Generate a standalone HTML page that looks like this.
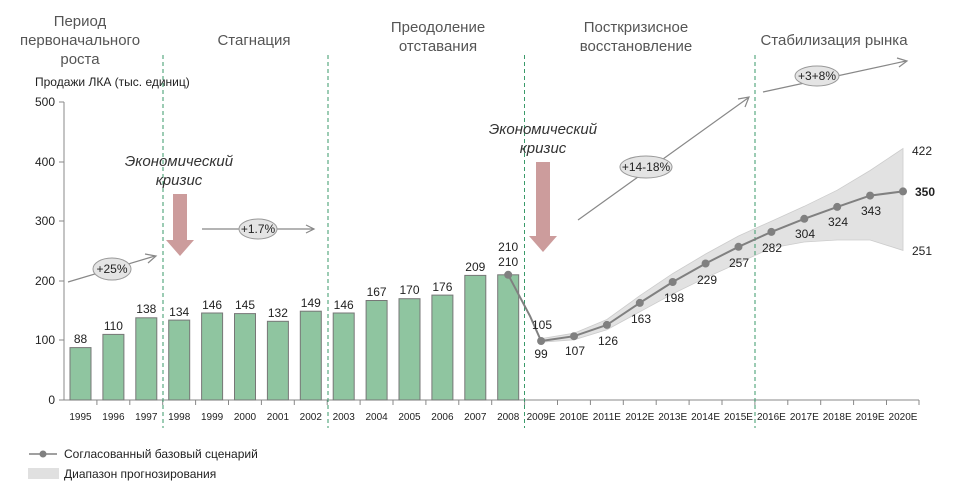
<!DOCTYPE html>
<html><head><meta charset="utf-8"><style>
body{margin:0;background:#fff;}
svg text{font-family:"Liberation Sans",Arial,sans-serif;}
</style></head><body>
<svg width="954" height="494" viewBox="0 0 954 494" xmlns="http://www.w3.org/2000/svg">
<g font-size="15" fill="#555" text-anchor="middle">
<text x="80" y="26">Период</text><text x="80" y="45">первоначального</text><text x="80" y="64">роста</text>
<text x="254" y="45">Стагнация</text>
<text x="438" y="32">Преодоление</text><text x="438" y="51">отставания</text>
<text x="636" y="32">Посткризисное</text><text x="636" y="51">восстановление</text>
<text x="834" y="45">Стабилизация рынка</text>
</g>
<text x="35" y="86" font-size="12" fill="#222">Продажи ЛКА  (тыс. единиц)</text>
<!-- band -->
<polygon fill="#e2e2e2" stroke="#ccc" stroke-width="0.8" points="541.1,338.6 574,333.2 606.9,319.5 639.8,295.7 672.7,273.6 705.6,254 738.5,236 771.4,221.2 804.3,206.3 837.2,190.2 870.1,170.5 903,148.5 903,250.4 870.1,240 837.2,240 804.3,242 771.4,248 738.5,263 705.6,277.8 672.7,293.9 639.8,311.8 606.9,329.7 574,339.8 541.1,342.2"/>
<!-- axes -->
<g stroke="#888" stroke-width="1">
<line x1="64" y1="102" x2="64" y2="400"/>
<line x1="64" y1="400" x2="919" y2="400"/>
<line x1="59" y1="102" x2="64" y2="102"/><line x1="59" y1="162" x2="64" y2="162"/><line x1="59" y1="221" x2="64" y2="221"/><line x1="59" y1="281" x2="64" y2="281"/><line x1="59" y1="340" x2="64" y2="340"/><line x1="59" y1="400" x2="64" y2="400"/>
</g>
<g stroke="#888">
<line x1="96.9" y1="400" x2="96.9" y2="405"/><line x1="129.8" y1="400" x2="129.8" y2="405"/><line x1="162.7" y1="400" x2="162.7" y2="405"/><line x1="195.6" y1="400" x2="195.6" y2="405"/><line x1="228.5" y1="400" x2="228.5" y2="405"/><line x1="261.4" y1="400" x2="261.4" y2="405"/><line x1="294.3" y1="400" x2="294.3" y2="405"/><line x1="327.2" y1="400" x2="327.2" y2="405"/><line x1="360.1" y1="400" x2="360.1" y2="405"/><line x1="393" y1="400" x2="393" y2="405"/><line x1="425.9" y1="400" x2="425.9" y2="405"/><line x1="458.8" y1="400" x2="458.8" y2="405"/><line x1="491.7" y1="400" x2="491.7" y2="405"/><line x1="524.6" y1="400" x2="524.6" y2="405"/><line x1="557.5" y1="400" x2="557.5" y2="405"/><line x1="590.4" y1="400" x2="590.4" y2="405"/><line x1="623.3" y1="400" x2="623.3" y2="405"/><line x1="656.2" y1="400" x2="656.2" y2="405"/><line x1="689.1" y1="400" x2="689.1" y2="405"/><line x1="722" y1="400" x2="722" y2="405"/><line x1="754.9" y1="400" x2="754.9" y2="405"/><line x1="787.8" y1="400" x2="787.8" y2="405"/><line x1="820.7" y1="400" x2="820.7" y2="405"/><line x1="853.6" y1="400" x2="853.6" y2="405"/><line x1="886.5" y1="400" x2="886.5" y2="405"/><line x1="919" y1="400" x2="919" y2="405"/>
</g>
<g font-size="12" fill="#222" text-anchor="end">
<text x="55" y="106">500</text><text x="55" y="166">400</text><text x="55" y="225">300</text><text x="55" y="285">200</text><text x="55" y="344">100</text><text x="55" y="404">0</text>
</g>
<!-- bars -->
<g fill="#8fc5a0" stroke="#777" stroke-width="1">
<rect x="70" y="347.6" width="21" height="52.4"/><rect x="102.9" y="334.4" width="21" height="65.6"/><rect x="135.8" y="317.8" width="21" height="82.2"/><rect x="168.7" y="320.1" width="21" height="79.9"/><rect x="201.6" y="313" width="21" height="87"/><rect x="234.5" y="313.6" width="21" height="86.4"/><rect x="267.4" y="321.3" width="21" height="78.7"/><rect x="300.3" y="311.2" width="21" height="88.8"/><rect x="333.2" y="313" width="21" height="87"/><rect x="366.1" y="300.5" width="21" height="99.5"/><rect x="399" y="298.7" width="21" height="101.3"/><rect x="431.9" y="295.1" width="21" height="104.9"/><rect x="464.8" y="275.4" width="21" height="124.6"/><rect x="497.7" y="274.8" width="21" height="125.2"/>
</g>
<g font-size="12" fill="#222" text-anchor="middle">
<text x="80.5" y="343">88</text><text x="113.4" y="330">110</text><text x="146.3" y="313">138</text><text x="179.2" y="316">134</text><text x="212.1" y="309">146</text><text x="245" y="309">145</text><text x="277.9" y="317">132</text><text x="310.8" y="307">149</text><text x="343.7" y="309">146</text><text x="376.6" y="296">167</text><text x="409.5" y="294">170</text><text x="442.4" y="291">176</text><text x="475.3" y="271">209</text><text x="508.2" y="251">210</text><text x="508.2" y="266">210</text>
</g>
<!-- dashed lines -->
<g stroke="#3a9a6a" stroke-width="1" stroke-dasharray="4,3">
<line x1="163" y1="55" x2="163" y2="428"/><line x1="328" y1="55" x2="328" y2="428"/><line x1="524.5" y1="55" x2="524.5" y2="428"/><line x1="755" y1="55" x2="755" y2="428"/>
</g>
<!-- line -->
<polyline fill="none" stroke="#808080" stroke-width="2" points="508.2,274.8 530,316 541.1,341 574,336.2 606.9,324.9 639.8,302.9 672.7,282 705.6,263.5 738.5,246.8 771.4,231.9 804.3,218.8 837.2,206.9 870.1,195.6 903,191.4"/>
<g fill="#808080">
<circle cx="508.2" cy="274.8" r="4"/><circle cx="541.1" cy="341" r="4"/><circle cx="574" cy="336.2" r="4"/><circle cx="606.9" cy="324.9" r="4"/><circle cx="639.8" cy="302.9" r="4"/><circle cx="672.7" cy="282" r="4"/><circle cx="705.6" cy="263.5" r="4"/><circle cx="738.5" cy="246.8" r="4"/><circle cx="771.4" cy="231.9" r="4"/><circle cx="804.3" cy="218.8" r="4"/><circle cx="837.2" cy="206.9" r="4"/><circle cx="870.1" cy="195.6" r="4"/><circle cx="903" cy="191.4" r="4"/>
</g>
<g font-size="12" fill="#222" text-anchor="middle">
<text x="542" y="329">105</text><text x="541" y="358">99</text><text x="575" y="355">107</text><text x="608" y="345">126</text><text x="641" y="323">163</text><text x="674" y="302">198</text><text x="707" y="284">229</text><text x="739" y="267">257</text><text x="772" y="252">282</text><text x="805" y="238">304</text><text x="838" y="226">324</text><text x="871" y="215">343</text>
<text x="922" y="155">422</text><text x="925" y="196" font-weight="bold">350</text><text x="922" y="255">251</text>
</g>
<!-- x labels -->
<g font-size="10" fill="#222" text-anchor="middle">
<text x="80.5" y="420">1995</text><text x="113.4" y="420">1996</text><text x="146.3" y="420">1997</text><text x="179.2" y="420">1998</text><text x="212.1" y="420">1999</text><text x="245" y="420">2000</text><text x="277.9" y="420">2001</text><text x="310.8" y="420">2002</text><text x="343.7" y="420">2003</text><text x="376.6" y="420">2004</text><text x="409.5" y="420">2005</text><text x="442.4" y="420">2006</text><text x="475.3" y="420">2007</text><text x="508.2" y="420">2008</text><text x="541.1" y="420">2009E</text><text x="574" y="420">2010E</text><text x="606.9" y="420">2011E</text><text x="639.8" y="420">2012E</text><text x="672.7" y="420">2013E</text><text x="705.6" y="420">2014E</text><text x="738.5" y="420">2015E</text><text x="771.4" y="420">2016E</text><text x="804.3" y="420">2017E</text><text x="837.2" y="420">2018E</text><text x="870.1" y="420">2019E</text><text x="903" y="420">2020E</text>
</g>
<!-- crisis -->
<g font-size="15" font-style="italic" fill="#333" text-anchor="middle">
<text x="179" y="166">Экономический</text><text x="179" y="185">кризис</text>
<text x="543" y="134">Экономический</text><text x="543" y="153">кризис</text>
</g>
<polygon fill="#cc9c9c" points="173,194 187,194 187,240 194,240 180,256 166,240 173,240"/>
<polygon fill="#cc9c9c" points="536,162 550,162 550,236 557,236 543,252 529,236 536,236"/>
<!-- trend arrows -->
<g stroke="#888" stroke-width="1.2" fill="none">
<line x1="68" y1="282" x2="155" y2="256"/><polyline points="145,254 156,256 148,263"/>
<line x1="202" y1="229" x2="314" y2="229"/><polyline points="306,225 314,229 306,233"/>
<line x1="578" y1="220" x2="748" y2="98"/><polyline points="738,99 749,97 745,107"/>
<line x1="763" y1="92" x2="906" y2="61"/><polyline points="897,58 907,61 899,67"/>
</g>
<g stroke="#999" fill="#e4e4e4">
<ellipse cx="112" cy="269" rx="19" ry="11"/><ellipse cx="258" cy="229" rx="19" ry="10"/><ellipse cx="646" cy="167" rx="26" ry="11"/><ellipse cx="817" cy="76" rx="22" ry="10"/>
</g>
<g font-size="12" fill="#222" text-anchor="middle">
<text x="112" y="273">+25%</text><text x="258" y="233">+1.7%</text><text x="646" y="171">+14-18%</text><text x="817" y="80">+3+8%</text>
</g>
<!-- legend -->
<line x1="29" y1="454" x2="57" y2="454" stroke="#808080" stroke-width="1.5"/><circle cx="43" cy="454" r="3.5" fill="#808080"/>
<text x="64" y="458" font-size="12" fill="#222">Согласованный базовый сценарий</text>
<rect x="28" y="468" width="31" height="11" fill="#e0e0e0"/>
<text x="64" y="478" font-size="12" fill="#222">Диапазон прогнозирования</text>
</svg>
</body></html>
